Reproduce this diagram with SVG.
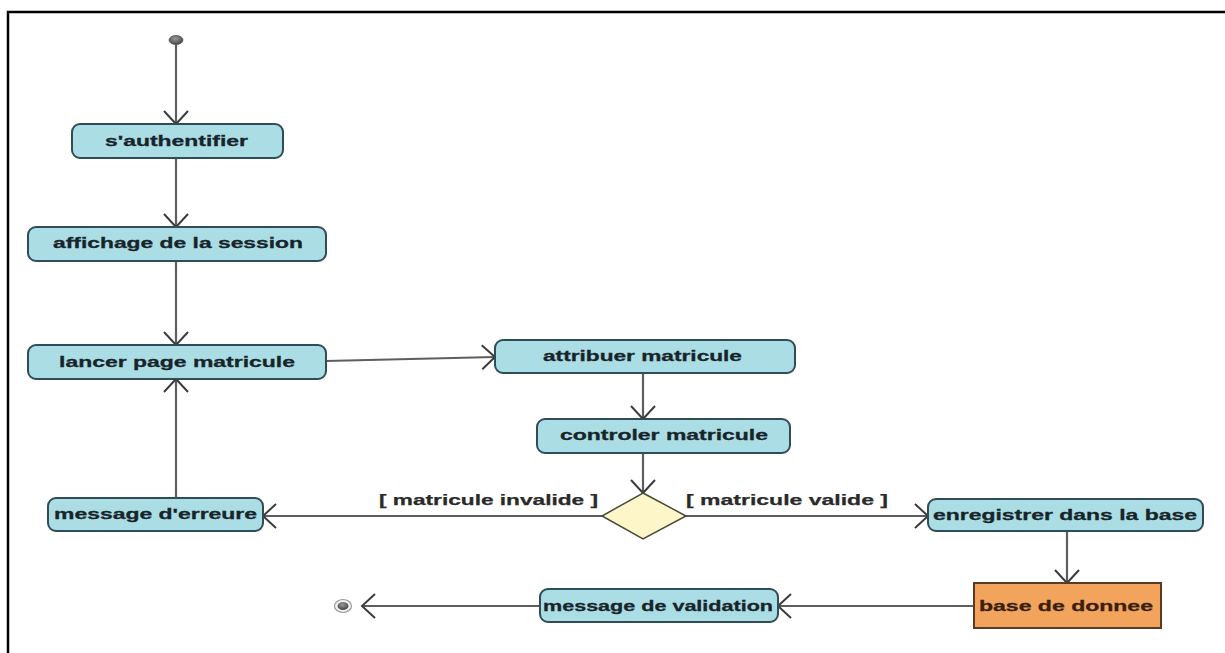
<svg xmlns="http://www.w3.org/2000/svg" width="1225" height="653" viewBox="0 0 1225 653">
  <style>
    .act { fill: #abdde5; stroke: #2f4c57; stroke-width: 2; }
    .store { fill: #f2a35c; stroke: #5a3a22; stroke-width: 2; }
    .dec { fill: #fdf6c8; stroke: #4a4a3a; stroke-width: 1.5; }
    .lbl { font-family: "Liberation Sans", Arial, sans-serif; font-weight: bold; font-size: 15.5px; fill: #17242a; stroke: #17242a; stroke-width: 0.3; }
    .guard { font-family: "Liberation Sans", Arial, sans-serif; font-weight: bold; font-size: 15px; fill: #2a2a2a; stroke: #2a2a2a; stroke-width: 0.25; }
    .flow { fill: none; stroke: #5e5e5e; stroke-width: 2.2; marker-end: url(#open); }
  </style>
  <defs>
    <marker id="open" markerUnits="userSpaceOnUse" markerWidth="28" markerHeight="28" refX="14" refY="13" orient="auto">
      <path d="M1,1 L14,13 L1,25" fill="none" stroke="#3c3c3c" stroke-width="2"/>
    </marker>
    <radialGradient id="dot" cx="0.45" cy="0.35" r="0.7">
      <stop offset="0" stop-color="#9a9a9a"/>
      <stop offset="1" stop-color="#3e3e3e"/>
    </radialGradient>
  </defs>

  <rect width="1225" height="653" fill="#ffffff"/>
  <!-- frame -->
  <path d="M8,653 V12 H1225" fill="none" stroke="#000" stroke-width="2.5"/>

  <!-- control flows -->
  <g id="connectors">
    <line class="flow" x1="176" y1="44" x2="176" y2="124"/>
    <line class="flow" x1="176" y1="158" x2="176" y2="227"/>
    <line class="flow" x1="176" y1="261" x2="176" y2="345"/>
    <line class="flow" x1="176" y1="498" x2="176" y2="379"/>
    <line class="flow" x1="326" y1="361" x2="495" y2="357"/>
    <line class="flow" x1="643" y1="373" x2="643" y2="419"/>
    <line class="flow" x1="643" y1="453" x2="643" y2="493"/>
    <line class="flow" x1="602" y1="516" x2="263" y2="516"/>
    <line class="flow" x1="686" y1="516" x2="928" y2="516"/>
    <line class="flow" x1="1067" y1="531" x2="1067" y2="583"/>
    <line class="flow" x1="974" y1="606" x2="778" y2="606"/>
    <line class="flow" x1="540" y1="606" x2="362" y2="606"/>
    <text class="guard" x="379" y="505" textLength="219" lengthAdjust="spacingAndGlyphs">[ matricule invalide ]</text>
    <text class="guard" x="686" y="505" textLength="202" lengthAdjust="spacingAndGlyphs">[ matricule valide ]</text>
  </g>

  <g id="start">
    <ellipse cx="176" cy="40" rx="7" ry="4.5" fill="url(#dot)" stroke="#555" stroke-width="0.8"/>
  </g>

  <g id="authentifier">
    <rect class="act" x="72" y="124" width="211" height="34" rx="8"/>
    <text class="lbl" x="105" y="146" textLength="143" lengthAdjust="spacingAndGlyphs">s'authentifier</text>
  </g>

  <g id="affichage">
    <rect class="act" x="28" y="227" width="298" height="34" rx="8"/>
    <text class="lbl" x="53" y="248" textLength="250" lengthAdjust="spacingAndGlyphs">affichage de la session</text>
  </g>

  <g id="lancer">
    <rect class="act" x="28" y="345" width="298" height="34" rx="8"/>
    <text class="lbl" x="59" y="367" textLength="236" lengthAdjust="spacingAndGlyphs">lancer page matricule</text>
  </g>

  <g id="erreur">
    <rect class="act" x="48" y="498" width="215" height="33" rx="8"/>
    <text class="lbl" x="54" y="519" textLength="203" lengthAdjust="spacingAndGlyphs">message d'erreure</text>
  </g>

  <g id="attribuer">
    <rect class="act" x="495" y="340" width="300" height="33" rx="8"/>
    <text class="lbl" x="543" y="361" textLength="199" lengthAdjust="spacingAndGlyphs">attribuer matricule</text>
  </g>

  <g id="controler">
    <rect class="act" x="537" y="419" width="253" height="34" rx="8"/>
    <text class="lbl" x="560" y="440" textLength="208" lengthAdjust="spacingAndGlyphs">controler matricule</text>
  </g>

  <g id="decision">
    <polygon class="dec" points="643,493 686,516 643,539 602,516"/>
  </g>

  <g id="enregistrer">
    <rect class="act" x="928" y="499" width="275" height="32" rx="8"/>
    <text class="lbl" x="933" y="520" textLength="264" lengthAdjust="spacingAndGlyphs">enregistrer dans la base</text>
  </g>

  <g id="base">
    <rect class="store" x="974" y="583" width="187" height="45"/>
    <text class="lbl" x="979" y="611" textLength="174" lengthAdjust="spacingAndGlyphs" style="fill:#3a1e0e;stroke:#3a1e0e">base de donnee</text>
  </g>

  <g id="validation">
    <rect class="act" x="540" y="589" width="238" height="33" rx="8"/>
    <text class="lbl" x="543" y="611" textLength="230" lengthAdjust="spacingAndGlyphs">message de validation</text>
  </g>

  <g id="end">
    <ellipse cx="343" cy="606" rx="8.5" ry="6.5" fill="#f4f4f4" stroke="#9a9a9a" stroke-width="1.2"/>
    <ellipse cx="343" cy="606" rx="5.5" ry="4" fill="url(#dot)"/>
  </g>
</svg>
